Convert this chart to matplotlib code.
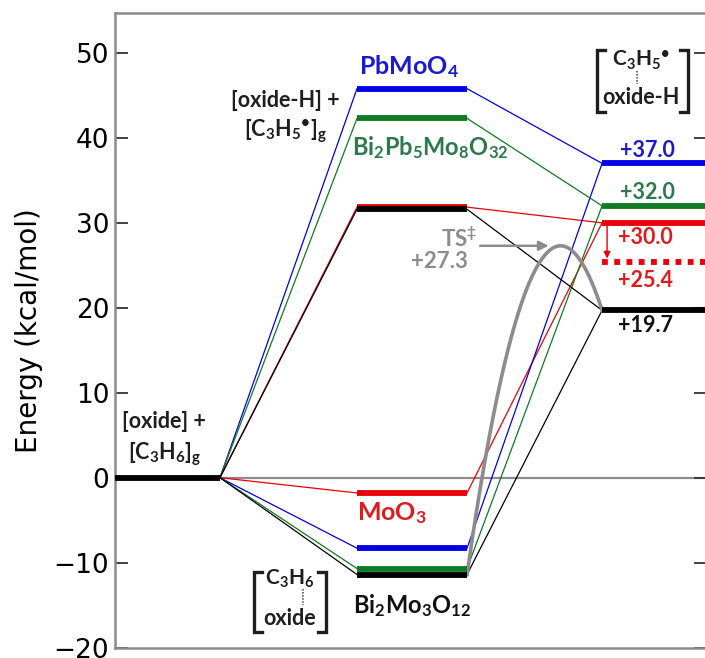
import numpy as np
import matplotlib.pyplot as plt

plt.rcParams['mathtext.fontset'] = 'custom'
plt.rcParams['mathtext.rm'] = 'Lato:bold'
plt.rcParams['mathtext.it'] = 'Lato:bold'
plt.rcParams['mathtext.bf'] = 'Lato:bold'

# energies in kcal/mol
materials = ['MoO3', 'PbMoO4', 'Bi2Pb5Mo8O32', 'Bi2Mo3O12']
line_colors = ['#e8000b', '#0000e6', '#0f7a23', '#000000']
text_colors = ['#e31a1c', '#1a1ad0', '#2a7a4c', '#111111']
gas_radical = [31.85, 45.8, 42.3, 31.6]     # [oxide-H] + [C3H5*]g
adsorbed = [-1.8, -8.3, -10.7, -11.4]       # [C3H6 : oxide]
surface_radical = [30.0, 37.0, 32.0, 19.7]  # [C3H5* : oxide-H]
value_labels = ['+30.0', '+37.0', '+32.0', '+19.7']
mat_labels = ['MoO$_3$', 'PbMoO$_4$', 'Bi$_2$Pb$_5$Mo$_8$O$_{32}$', 'Bi$_2$Mo$_3$O$_{12}$']
ts_energy = 27.3
moo3_corrected = 25.4

# stage x extents (layout)
L = (0.0, 1.05)
M = (2.42, 3.52)
R = (4.87, 6.3)
LVL = 4.2
THIN = 0.9
grey = '#8c8c8c'
ink = '#1e1e1e'

fig = plt.figure(figsize=(7.05, 6.58), dpi=100)
ax = fig.add_axes([0.163, 0.0152, 0.84, 0.965])

# reference line at zero
ax.plot([L[1], R[1]], [0, 0], color=grey, lw=1.6, zorder=1)
ax.plot(L, [0, 0], color='black', lw=LVL, solid_capstyle='butt', zorder=5)

for i in range(len(materials)):
    c = line_colors[i]
    z = 2 + i * 0.1
    ax.plot([L[1], M[0]], [0, gas_radical[i]], color=c, lw=THIN, zorder=z)
    ax.plot([M[1], R[0]], [gas_radical[i], surface_radical[i]], color=c, lw=THIN, zorder=z)
    ax.plot([L[1], M[0]], [0, adsorbed[i]], color=c, lw=THIN, zorder=z)
    ax.plot([M[1], R[0]], [adsorbed[i], surface_radical[i]], color=c, lw=THIN, zorder=z)
    ax.plot(M, [gas_radical[i]] * 2, color=c, lw=LVL, solid_capstyle='butt', zorder=5 + i * 0.1)
    ax.plot(M, [adsorbed[i]] * 2, color=c, lw=LVL, solid_capstyle='butt', zorder=5 + i * 0.1)
    ax.plot(R, [surface_radical[i]] * 2, color=c, lw=LVL, solid_capstyle='butt', zorder=5 + i * 0.1)

# corrected MoO3 level
ax.plot(R, [moo3_corrected] * 2, color=line_colors[0], lw=LVL, dashes=(1, 1.1), zorder=5)
ax.annotate('', xy=(4.92, moo3_corrected + 0.4), xytext=(4.92, surface_radical[0]),
            arrowprops=dict(arrowstyle='-|>', color=line_colors[0], lw=1.0,
                            mutation_scale=10, shrinkA=0, shrinkB=0), zorder=6)

# transition state curve for Bi2Mo3O12 (parabola through start, peak, end)
y0, y1 = adsorbed[3], surface_radical[3]
r = np.sqrt((ts_energy - y0) / (ts_energy - y1))
xp = (M[1] + r * R[0]) / (1 + r)
a = (ts_energy - y0) / (xp - M[1]) ** 2
xs = np.linspace(M[1], R[0], 200)
ax.plot(xs, ts_energy - a * (xs - xp) ** 2, color=grey, lw=2.6, zorder=4)
ax.annotate('', xy=(xp - 0.12, ts_energy), xytext=(3.65, ts_energy),
            arrowprops=dict(arrowstyle='-|>', color=grey, lw=1.8,
                            mutation_scale=14, shrinkA=0, shrinkB=0), zorder=6)

tkw = dict(fontfamily='Lato', fontweight='bold', va='baseline')
ax.text(3.44, 27.2, 'TS$^{‡}$', color=grey, fontsize=16, ha='center', **tkw)
ax.text(3.53, 24.7, '+27.3', color=grey, fontsize=16, ha='right', **tkw)

# material labels
ax.text(2.94, 47.5, mat_labels[1], color=text_colors[1], fontsize=18, ha='center', **tkw)
ax.text(2.37, 38.0, mat_labels[2], color=text_colors[2], fontsize=17, ha='left', **tkw)
ax.text(2.42, -4.95, mat_labels[0], color=text_colors[0], fontsize=18, ha='left', **tkw)
ax.text(2.38, -15.9, mat_labels[3], color=text_colors[3], fontsize=17, ha='left', **tkw)

# right-hand values
ax.text(5.32, 37.8, value_labels[1], color=text_colors[1], fontsize=15.5, ha='center', **tkw)
ax.text(5.32, 32.8, value_labels[2], color=text_colors[2], fontsize=15.5, ha='center', **tkw)
ax.text(5.30, 27.5, value_labels[0], color=text_colors[0], fontsize=15.5, ha='center', **tkw)
ax.text(5.30, 22.5, '+%.1f' % moo3_corrected, color=text_colors[0], fontsize=15.5, ha='center', **tkw)
ax.text(5.30, 17.1, value_labels[3], color=text_colors[3], fontsize=15.5, ha='center', **tkw)

# state labels
ax.text(1.70, 43.6, '[oxide-H] +', color=ink, fontsize=15.5, ha='center', **tkw)
ax.text(1.70, 40.2, '[C$_3$H$_5$$^{•}$]$_g$', color=ink, fontsize=15.5, ha='center', **tkw)
ax.text(0.49, 5.9, '[oxide] +', color=ink, fontsize=15.5, ha='center', **tkw)
ax.text(0.50, 2.1, '[C$_3$H$_6$]$_g$', color=ink, fontsize=15.5, ha='center', **tkw)


def complex_label(x0, x1, ytop, ybot, top, bottom, xdot, ytext_top, ytext_bot, xc):
    s = 0.08
    ax.plot([x0 + s, x0, x0, x0 + s], [ytop, ytop, ybot, ybot], color=ink, lw=2.4,
            solid_joinstyle='miter')
    ax.plot([x1 - s, x1, x1, x1 - s], [ytop, ytop, ybot, ybot], color=ink, lw=2.4,
            solid_joinstyle='miter')
    ax.text(xc, ytext_top, top, color=ink, fontsize=15, ha='center', **tkw)
    ax.text(xc, ytext_bot, bottom, color=ink, fontsize=15.5, ha='center', **tkw)
    ax.plot([xdot, xdot], [ytext_top - 0.5, ytext_bot + 2.3], color='#444444', lw=1.1,
            ls=(0, (1, 1)))


complex_label(1.39, 2.11, -11.1, -18.2, 'C$_3$H$_6$', 'oxide', 1.88, -12.6, -17.3, 1.75)
complex_label(4.82, 5.73, 50.3, 43.0, 'C$_3$H$_5$$^{•}$', 'oxide-H', 5.22, 48.4, 44.0, 5.26)

ax.set_xlim(0, 5.92)
ax.set_ylim(-20.05, 54.7)
ax.set_yticks(np.arange(-20, 51, 10))
ax.set_xticks([])
ax.tick_params(axis='y', direction='in', length=9.5, width=1.3, labelsize=19,
               right=True, pad=4, color='#333333')
for sp in ax.spines.values():
    sp.set_color(grey)
    sp.set_linewidth(1.8)
ax.set_ylabel('Energy (kcal/mol)', fontsize=20, labelpad=8)

fig.savefig('out.png', dpi=100)
